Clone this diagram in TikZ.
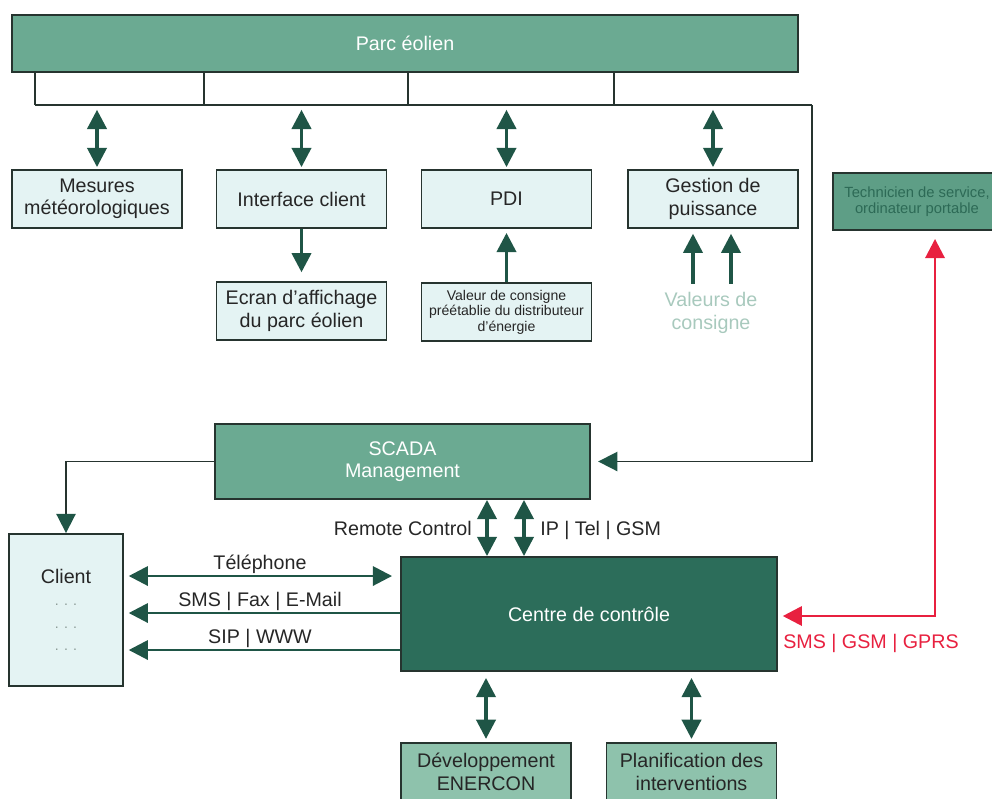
\documentclass[tikz,border=0pt]{standalone}
\usepackage{fontspec}
\setmainfont{Liberation Sans}
\usetikzlibrary{arrows.meta}

\definecolor{verdeparc}{HTML}{6BAA92}
\definecolor{verdeclaro}{HTML}{E4F3F3}
\definecolor{verdeosc}{HTML}{2C6D5A}
\definecolor{verdeflecha}{HTML}{1F5546}
\definecolor{verdemedio}{HTML}{8EC2AC}
\definecolor{verdetec}{HTML}{5E9E86}
\definecolor{textotec}{HTML}{2D6A56}
\definecolor{consigna}{HTML}{A8C9BD}
\definecolor{rojo}{HTML}{E8203F}
\definecolor{borde}{HTML}{26342F}
\definecolor{puntos}{HTML}{8A9A95}

\tikzset{
	punta/.tip={Triangle[width=0.48cm,length=0.48cm]},
	puntaverde/.tip={Triangle[width=0.48cm,length=0.48cm,color=verdeflecha]},
	caja/.style={draw=borde, line width=1.3pt, fill=verdeclaro, text=black!85, align=center,
		inner sep=1pt, minimum width=4.25cm, minimum height=1.45cm, font=\fontsize{14}{16}\selectfont},
	cajaverde/.style={caja, fill=verdeparc, text=white},
	cajaosc/.style={caja, fill=verdeosc, text=white},
	cajamedia/.style={caja, fill=verdemedio},
	cajatec/.style={caja, fill=verdetec, text=textotec, minimum width=4.2cm, minimum height=1.425cm,
		font=\fontsize{10.5}{11.5}\selectfont},
	consigne/.style={text=consigna, align=center, font=\fontsize{14}{16}\selectfont},
	etiqueta/.style={inner sep=0pt, font=\fontsize{14}{16}\selectfont, text=black!85},
	flecha/.style={draw=verdeflecha, line width=2.4pt, -punta},
	doble/.style={flecha, punta-punta},
	bus/.style={draw=borde, line width=1.3pt},
	rojolinea/.style={draw=rojo, line width=2pt, punta-punta}
}

\begin{document}
\begin{tikzpicture}[x=0.025cm, y=-0.025cm] % 1 unidad = 1 pixel
	\useasboundingbox (0,0) rectangle (992,798);

	% cajas de arriba
	\node[cajaverde, minimum width=19.65cm, minimum height=1.425cm] (parc) at (405,43.5) {Parc éolien};
	\node[caja] (mesures) at (97,199) {Mesures\\météorologiques};
	\node[caja] (interface) at (301.5,199) {Interface client};
	\node[caja] (pdi) at (506.5,199) {PDI};
	\node[caja] (gestion) at (713,199) {Gestion de\\puissance};
	\node[cajatec] (tecnico) at (917,201.5) {Technicien de service,\\ordinateur portable};

	% segunda fila
	\node[caja] (ecran) at (301.5,311) {Ecran d’affichage\\du parc éolien};
	\node[caja, font=\fontsize{10}{11}\selectfont] (valeur) at (506.5,312) {Valeur de consigne\\préétablie du distributeur\\d’énergie};
	\node[consigne] (valeurs) at (711,313) {Valeurs de\\consigne};

	% cajas de abajo
	\node[cajaverde, minimum width=9.375cm, minimum height=1.875cm] (scada) at (402.5,461.5) {SCADA\\Management};
	\node[caja, minimum width=2.85cm, minimum height=3.8cm] (client) at (66,610) {Client\\{\color{puntos}\fontsize{10}{10}\selectfont . . .}\\{\color{puntos}\fontsize{10}{10}\selectfont . . .}\\{\color{puntos}\fontsize{10}{10}\selectfont . . .}};
	\node[cajaosc, minimum width=9.4cm, minimum height=2.85cm] (centre) at (589,614) {Centre de contrôle};
	\node[cajamedia] (dev) at (486,772) {Développement\\ENERCON};
	\node[cajamedia] (plan) at (691.5,772) {Planification des\\interventions};

	% bus del parc
	\coordinate (b1) at (35,105);
	\coordinate (b2) at (204,105);
	\coordinate (b3) at (408,105);
	\coordinate (b4) at (614,105);
	\coordinate (b5) at (812,105);
	\draw[bus] (b1) -- (b5);
	\foreach \b in {b1,b2,b3,b4}
		\draw[bus] (parc.south -| \b) -- (\b);
	\draw[bus, -puntaverde, shorten >=0.18cm] (b5) |- (scada.east); % hacia SCADA
	\draw[bus, -puntaverde] (scada.west) -| (client.north); % hacia el cliente

	% flechas del bus a las cajas
	\foreach \c in {mesures,interface,pdi,gestion}
		\draw[doble, shorten <=0.12cm, shorten >=0.05cm] (\c.north |- b1) -- (\c.north);
	\draw[flecha, shorten >=0.22cm] (interface.south) -- (ecran.north);
	\draw[flecha, shorten >=0.1cm] (valeur.north) -- (pdi.south);
	\draw[flecha, shorten <=0.1cm, shorten >=0.12cm] ([xshift=-0.45cm]valeurs.north) -- ([xshift=-0.45cm]valeurs.north |- gestion.south);
	\draw[flecha, shorten <=0.1cm, shorten >=0.12cm] ([xshift=0.5cm]valeurs.north) -- ([xshift=0.5cm]valeurs.north |- gestion.south);

	% SCADA y centre de controle
	\coordinate (rc) at (487,528);
	\coordinate (ip) at (524,528);
	\draw[doble] (rc |- scada.south) -- (rc |- centre.north);
	\draw[doble] (ip |- scada.south) -- (ip |- centre.north);
	\node[etiqueta, anchor=base east] (rclbl) at (472,535) {Remote Control};
	\node[etiqueta, anchor=base west] (iplbl) at (540,535) {IP | Tel | GSM};

	% centre y cliente
	\coordinate (tel) at (260,576);
	\coordinate (sms) at (260,613);
	\coordinate (sip) at (260,650);
	\draw[doble, line width=2pt, shorten <=0.12cm, shorten >=0.2cm] (client.east |- tel) -- (centre.west |- tel);
	\draw[flecha, line width=2pt, shorten >=0.12cm] (centre.west |- sms) -- (client.east |- sms);
	\draw[flecha, line width=2pt, shorten >=0.12cm] (centre.west |- sip) -- (client.east |- sip);
	\node[etiqueta, anchor=base] (tellbl) at (260,569) {Téléphone};
	\node[etiqueta, anchor=base] (smslbl) at (260,606) {SMS | Fax | E-Mail};
	\node[etiqueta, anchor=base] (siplbl) at (260,643) {SIP | WWW};

	% tecnico (rojo)
	\coordinate (esq) at (935,616);
	\draw[rojolinea, shorten <=0.2cm, shorten >=0.12cm] (esq |- tecnico.south) -- (esq) -- (centre.east |- esq);
	\node[etiqueta, text=rojo, anchor=base west] (rojolbl) at (783,648) {SMS | GSM | GPRS};

	% abajo
	\draw[doble, shorten <=0.15cm, shorten >=0.08cm] (dev.north |- centre.south) -- (dev.north);
	\draw[doble, shorten <=0.15cm, shorten >=0.08cm] (plan.north |- centre.south) -- (plan.north);
\end{tikzpicture}
\end{document}
